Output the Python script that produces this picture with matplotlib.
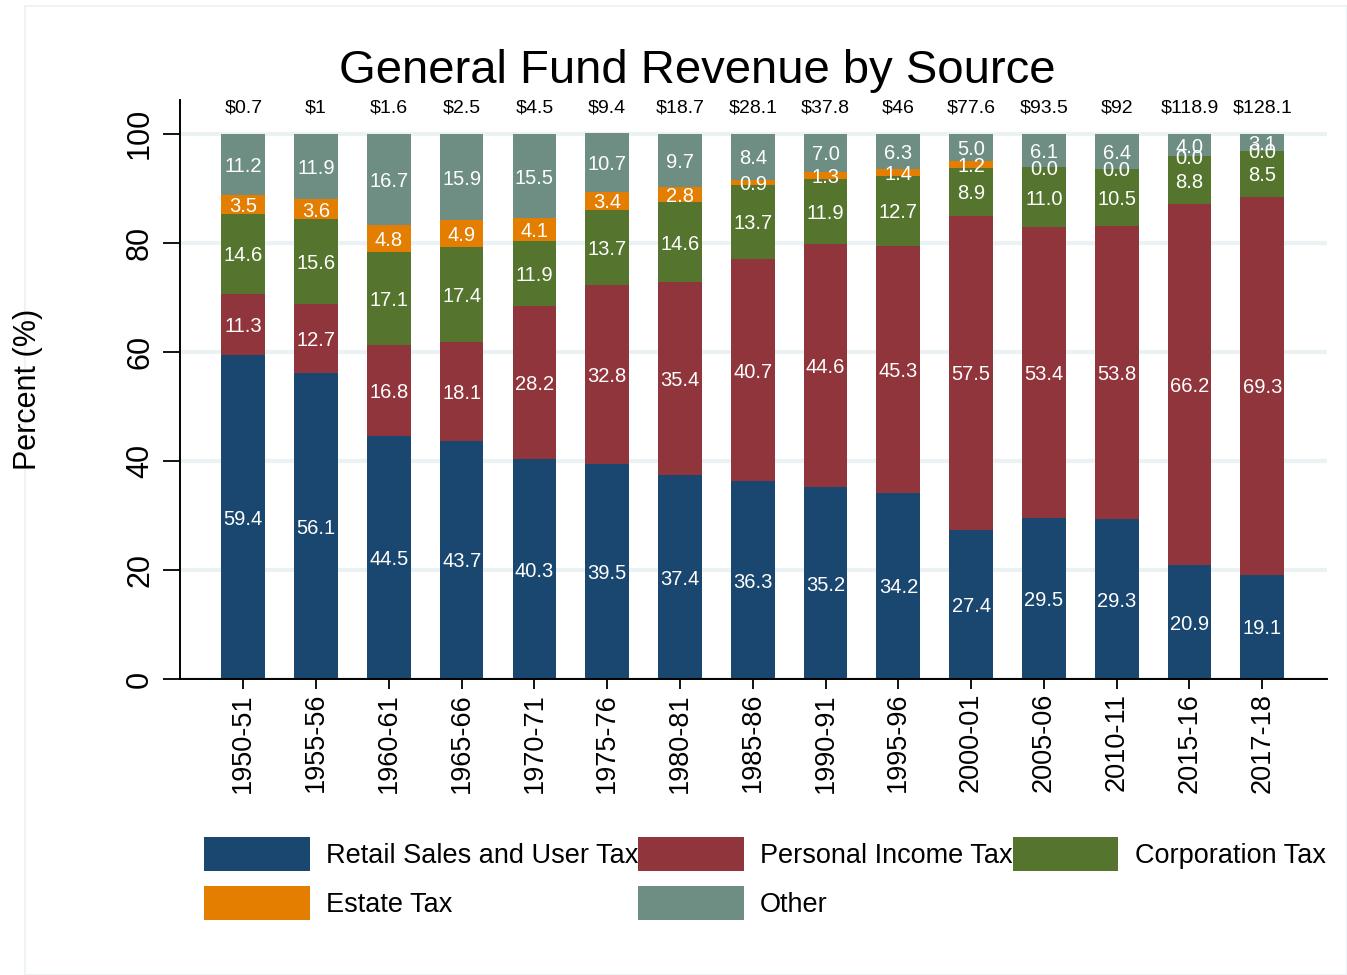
import numpy as np
import matplotlib
matplotlib.use("Agg")
import matplotlib.pyplot as plt
from matplotlib.patches import Patch, Rectangle

plt.rcParams["font.family"] = ["Liberation Sans", "DejaVu Sans"]

years = ["1950-51", "1955-56", "1960-61", "1965-66", "1970-71", "1975-76", "1980-81",
         "1985-86", "1990-91", "1995-96", "2000-01", "2005-06", "2010-11", "2015-16", "2017-18"]
retail = [59.4, 56.1, 44.5, 43.7, 40.3, 39.5, 37.4, 36.3, 35.2, 34.2, 27.4, 29.5, 29.3, 20.9, 19.1]
income = [11.3, 12.7, 16.8, 18.1, 28.2, 32.8, 35.4, 40.7, 44.6, 45.3, 57.5, 53.4, 53.8, 66.2, 69.3]
corp = [14.6, 15.6, 17.1, 17.4, 11.9, 13.7, 14.6, 13.7, 11.9, 12.7, 8.9, 11.0, 10.5, 8.8, 8.5]
estate = [3.5, 3.6, 4.8, 4.9, 4.1, 3.4, 2.8, 0.9, 1.3, 1.4, 1.2, 0.0, 0.0, 0.0, 0.0]
other = [11.2, 11.9, 16.7, 15.9, 15.5, 10.7, 9.7, 8.4, 7.0, 6.3, 5.0, 6.1, 6.4, 4.0, 3.1]
totals = ["$0.7", "$1", "$1.6", "$2.5", "$4.5", "$9.4", "$18.7", "$28.1", "$37.8",
          "$46", "$77.6", "$93.5", "$92", "$118.9", "$128.1"]

series = [
    ("Retail Sales and User Tax", retail, "#1a476f"),
    ("Personal Income Tax", income, "#90353b"),
    ("Corporation Tax", corp, "#55752f"),
    ("Estate Tax", estate, "#e37e00"),
    ("Other", other, "#6e8e84"),
]

fig = plt.figure(figsize=(13.47, 9.75), dpi=100)
fig.patches.append(Rectangle((25 / 1347, 0), 1 - 25 / 1347, 1 - 6 / 975, transform=fig.transFigure,
                             fill=False, edgecolor="#eaf2f3", linewidth=1.2))
ax = fig.add_axes([180 / 1347, 1 - 679 / 975, (1327 - 180) / 1347, (679 - 100) / 975])

x = np.arange(len(years))
bottom = np.zeros(len(years))
for name, vals, color in series:
    vals = np.array(vals)
    ax.bar(x, vals, 0.6, bottom=bottom, color=color, label=name, zorder=2)
    for xi, b, v in zip(x, bottom, vals):
        ax.text(xi, b + v / 2, f"{v:.1f}", ha="center", va="center_baseline", color="white",
                fontsize=14.5, zorder=3)
    bottom += vals

for xi, t in zip(x, totals):
    ax.text(xi, 104.7, t, ha="center", va="center", fontsize=14, color="black")

ax.set_xlim(-0.87, len(years) - 1 + 0.89)
ax.set_ylim(0, 106.2)
ax.set_yticks([0, 20, 40, 60, 80, 100])
ax.set_yticklabels(["0", "20", "40", "60", "80", "100"], rotation=90, va="center", fontsize=22)
ax.set_xticks(x)
ax.set_xticklabels(years, rotation=90, fontsize=19.5)
ax.tick_params(axis="y", length=12, width=1.3, pad=6)
ax.tick_params(axis="x", length=7, width=1.3, pad=3)
ax.yaxis.grid(True, color="#eaf2f3", linewidth=3, zorder=0)
ax.set_axisbelow(True)
for s in ["top", "right"]:
    ax.spines[s].set_visible(False)
for s in ["left", "bottom"]:
    ax.spines[s].set_linewidth(1.4)

fig.text(28 / 1347, 1 - 389 / 975, "Percent (%)", rotation=90, ha="center", va="center", fontsize=22)
fig.text(697 / 1347, 1 - 71 / 975, "General Fund Revenue by Source", ha="center", va="center", fontsize=34)

# legend filled column by column: reorder so rows read left to right
order = [0, 3, 1, 4, 2]
handles = [Patch(facecolor=series[i][2], label=series[i][0]) for i in order]
fig.legend(handles=handles, ncol=3, loc="upper left", bbox_to_anchor=(204 / 1347, 1 - 837 / 975),
           frameon=False, fontsize=19.5, handlelength=3.9, handleheight=1.55, handletextpad=0.6,
           columnspacing=0.0, labelspacing=0.55, borderaxespad=0, borderpad=0)

fig.savefig("out.png", dpi=100, facecolor="white")
